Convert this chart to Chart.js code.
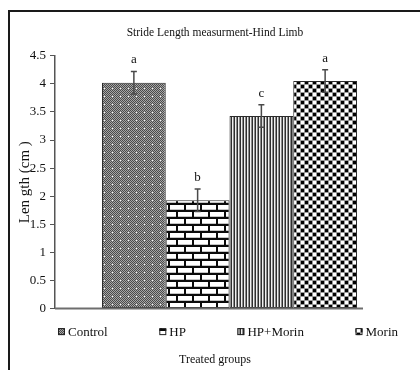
<!DOCTYPE html>
<html>
<head>
<meta charset="utf-8">
<script src="https://cdn.jsdelivr.net/npm/chart.js@4/dist/chart.umd.min.js"></script>
<style>
  html, body { margin: 0; padding: 0; background: #fff; }
  canvas { display: block; }
</style>
</head>
<body>
<canvas id="c" width="420" height="370"></canvas>
<script>
// Stride length of the hind limb per treated group (mean ± error)
const groups = ['Control', 'HP', 'HP+Morin', 'Morin'];
const strideLength = [4.02, 1.93, 3.43, 4.05];
const strideError = [0.2, 0.2, 0.2, 0.2];
const sigLetters = ['a', 'b', 'c', 'a'];
const yTickValues = [0, 0.5, 1, 1.5, 2, 2.5, 3, 3.5, 4, 4.5];

const SERIF = '"Liberation Serif", "Times New Roman", serif';
const canvas = document.getElementById('c');
const ctx = canvas.getContext('2d');

// Small repeating tiles used as hatch fills for the bars
function tile(w, h, paint) {
  const c = document.createElement('canvas');
  c.width = w; c.height = h;
  paint(c.getContext('2d'));
  return ctx.createPattern(c, 'repeat');
}

const fills = [
  // fine grey checker
  tile(8, 8, g => {
    for (let y = 0; y < 8; y++) for (let x = 0; x < 8; x++) {
      g.fillStyle = (x + y) % 2 ? '#a6a6a6' : '#4a4a4a';
      g.fillRect(x, y, 1, 1);
    }
    g.fillStyle = '#f2f2f2';
    g.fillRect(0, 0, 1, 1);
  }),
  // brick wall
  tile(16, 14, g => {
    g.fillStyle = '#ffffff'; g.fillRect(0, 0, 16, 14);
    g.fillStyle = '#c4c4c4';
    g.fillRect(0, 6, 16, 1); g.fillRect(0, 13, 16, 1);
    g.fillStyle = '#0a0a0a';
    g.fillRect(0, 0, 16, 2); g.fillRect(0, 7, 16, 2);
    g.fillRect(0, 2, 2, 5); g.fillRect(8, 9, 2, 5);
  }),
  // vertical stripes
  tile(3, 1, g => {
    g.fillStyle = '#2e2e2e'; g.fillRect(0, 0, 1, 1);
    g.fillStyle = '#f0f0f0'; g.fillRect(1, 0, 1, 1);
    g.fillStyle = '#8c8c8c'; g.fillRect(2, 0, 1, 1);
  }),
  // large checkerboard
  tile(8, 8, g => {
    g.fillStyle = '#ffffff'; g.fillRect(0, 0, 8, 8);
    g.fillStyle = '#9a9a9a';
    g.fillRect(0, 0, 8, 1); g.fillRect(0, 4, 8, 1);
    g.fillRect(0, 0, 1, 8); g.fillRect(4, 0, 1, 8);
    g.fillStyle = '#000000';
    g.fillRect(1, 1, 3, 3); g.fillRect(5, 5, 3, 3);
  })
];

// Outer frame (left and top edges) on a white ground
const framePlugin = {
  id: 'frame',
  beforeDraw(chart) {
    const c = chart.ctx;
    c.save();
    c.fillStyle = '#ffffff';
    c.fillRect(0, 0, chart.width, chart.height);
    c.strokeStyle = '#1a1a1a';
    c.lineWidth = 2;
    c.beginPath();
    c.moveTo(9, chart.height);
    c.lineTo(9, 11);
    c.lineTo(chart.width, 11);
    c.stroke();
    c.restore();
  }
};

// Category axis line, running just past the last bar
const baselinePlugin = {
  id: 'baseline',
  afterDatasetsDraw(chart) {
    const area = chart.chartArea;
    const metas = chart.getSortedVisibleDatasetMetas();
    const lastBar = metas[metas.length - 1].data[0];
    const xEnd = lastBar.x + lastBar.width / 2 + 6;
    const c = chart.ctx;
    c.save();
    c.strokeStyle = '#6e6e6e';
    c.lineWidth = 2;
    c.beginPath();
    c.moveTo(area.left, area.bottom);
    c.lineTo(xEnd, area.bottom);
    c.stroke();
    c.restore();
  }
};

// Error bars and significance letters above each bar
const errorPlugin = {
  id: 'errorBars',
  afterDatasetsDraw(chart) {
    const c = chart.ctx;
    const y = chart.scales.y;
    c.save();
    chart.data.datasets.forEach((ds, i) => {
      const bar = chart.getDatasetMeta(i).data[0];
      const v = ds.data[0];
      const err = strideError[i];
      const yTop = y.getPixelForValue(v + err);
      const yBot = y.getPixelForValue(v - err);
      c.strokeStyle = '#4a4a4a';
      c.lineWidth = 1.5;
      c.beginPath();
      c.moveTo(bar.x, yTop); c.lineTo(bar.x, yBot);
      c.moveTo(bar.x - 3, yTop); c.lineTo(bar.x + 3, yTop);
      c.moveTo(bar.x - 3, yBot); c.lineTo(bar.x + 3, yBot);
      c.stroke();
      c.fillStyle = '#111';
      c.font = '13px ' + SERIF;
      c.textAlign = 'center';
      c.textBaseline = 'bottom';
      c.fillText(sigLetters[i], bar.x, yTop - 5);
    });
    c.restore();
  }
};

// Legend row: pattern swatch + label, spread across the plot width
const legendRowPlugin = {
  id: 'legendRow',
  afterDraw(chart) {
    const c = chart.ctx;
    const area = chart.chartArea;
    const sw = 7, gapText = 3;
    c.save();
    c.font = '13px ' + SERIF;
    c.textBaseline = 'middle';
    c.textAlign = 'left';
    const items = chart.data.datasets.map(ds => ({
      ds, w: sw + gapText + c.measureText(ds.label).width
    }));
    const x0 = area.left + 3, x1 = area.right - 6;
    const total = items.reduce((s, it) => s + it.w, 0);
    const gap = (x1 - x0 - total) / (items.length - 1);
    const yc = area.bottom + 23;
    let x = x0;
    items.forEach(it => {
      c.fillStyle = it.ds.backgroundColor;
      c.fillRect(x, yc - sw / 2, sw, sw);
      c.strokeStyle = '#222';
      c.lineWidth = 1;
      c.strokeRect(x + 0.5, yc - sw / 2 + 0.5, sw - 1, sw - 1);
      c.fillStyle = '#111';
      c.fillText(it.ds.label, x + sw + gapText, yc + 1);
      x += it.w + gap;
    });
    c.restore();
  }
};

const datasets = groups.map((name, i) => ({
  label: name,
  data: [strideLength[i]],
  backgroundColor: fills[i],
  borderColor: '#2b2b2b',
  borderWidth: 1,
  borderSkipped: false,
  categoryPercentage: 0.7307,
  barPercentage: 1
}));

new Chart(canvas, {
  type: 'bar',
  data: { labels: ['Treated groups'], datasets },
  options: {
    responsive: false,
    animation: false,
    devicePixelRatio: 1,
    layout: { padding: { left: 10, right: 0, top: 0, bottom: 0 } },
    plugins: {
      legend: { display: false },
      tooltip: { enabled: false },
      title: {
        display: true,
        text: 'Stride Length measurment-Hind Limb',
        color: '#111',
        font: { family: SERIF, size: 11.5, weight: 'normal' },
        padding: { top: 26, bottom: 16 }
      },
      subtitle: {
        display: true,
        position: 'bottom',
        text: 'Treated groups',
        color: '#111',
        font: { family: SERIF, size: 12, weight: 'normal' },
        padding: { top: 44, bottom: 3 }
      }
    },
    scales: {
      x: { display: false },
      y: {
        min: 0,
        max: 4.5,
        afterBuildTicks: s => { s.ticks = yTickValues.map(v => ({ value: v })); },
        afterFit: s => { s.width = 45; },
        grid: { drawOnChartArea: false, drawTicks: true, tickLength: 5, color: '#555', lineWidth: 1 },
        border: { display: true, color: '#555', width: 1.5 },
        ticks: { color: '#111', padding: 4, font: { family: SERIF, size: 13 }, callback: v => String(v) },
        title: {
          display: true,
          text: 'Len gth (cm )',
          color: '#111',
          font: { family: SERIF, size: 15 },
          padding: { top: 6, bottom: 0 }
        }
      },
      yRight: {
        position: 'right',
        display: true,
        afterFit: s => { s.width = 16; },
        grid: { display: false },
        border: { display: false },
        ticks: { display: false }
      }
    }
  },
  plugins: [framePlugin, baselinePlugin, errorPlugin, legendRowPlugin]
});
</script>
</body>
</html>
